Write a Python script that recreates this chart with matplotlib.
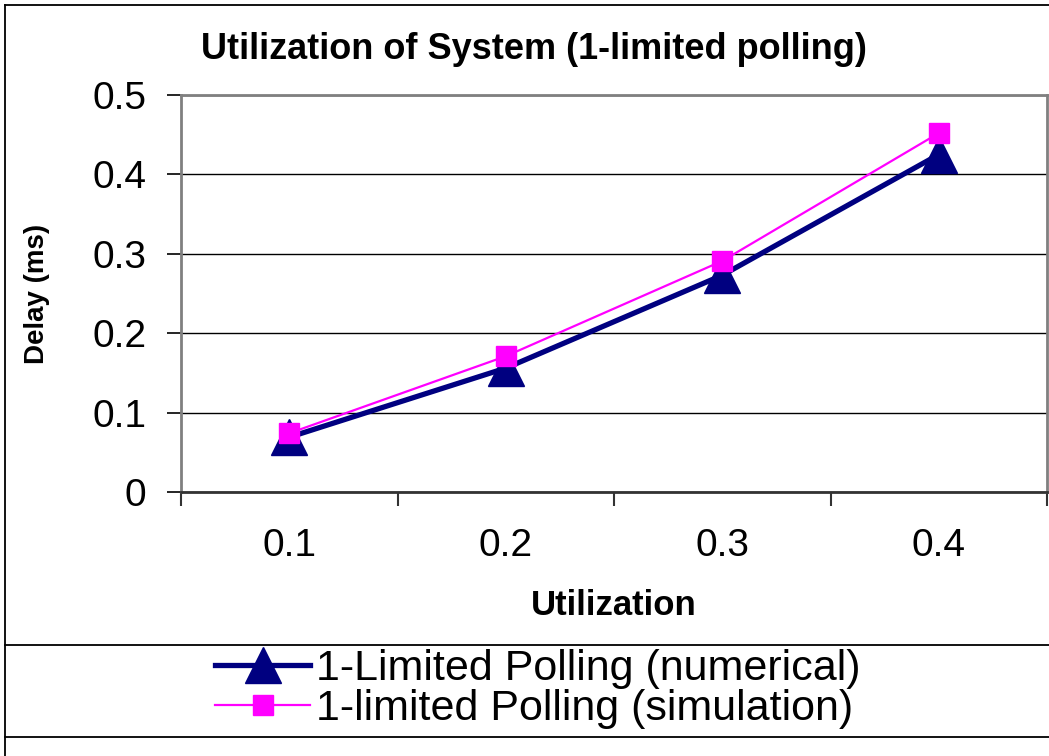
import matplotlib.pyplot as plt
from matplotlib.lines import Line2D

categories = ["0.1", "0.2", "0.3", "0.4"]
numerical = [0.069, 0.156, 0.273, 0.425]
simulation = [0.074, 0.171, 0.291, 0.452]
yticks = [0, 0.1, 0.2, 0.3, 0.4, 0.5]
ytick_labels = ["0", "0.1", "0.2", "0.3", "0.4", "0.5"]

plt.rcParams['font.family'] = ['Liberation Sans', 'DejaVu Sans']

fig = plt.figure(figsize=(10.49, 7.56), dpi=100)
ax = fig.add_axes([181/1049, 1 - 492/756, (1047-181)/1049, (492-95)/756])

xs = [i + 0.5 for i in range(len(categories))]
ax.plot(xs, numerical, color='#000080', lw=3.8, marker='^', ms=26,
        label='1-Limited Polling (numerical)', solid_joinstyle='miter')
ax.plot(xs, simulation, color='#FF00FF', lw=1.6, marker='s', ms=14,
        label='1-limited Polling (simulation)')

ax.set_xlim(0, 4)
ax.set_ylim(0, 0.5)
ax.set_yticks(yticks)
ax.set_yticklabels(ytick_labels)
ax.yaxis.grid(True, color='black', lw=1.0)
ax.set_axisbelow(True)

ax.set_xticks(range(5))
ax.set_xticklabels([])
ax.set_xticks(xs, minor=True)
ax.set_xticklabels(categories, minor=True)
ax.tick_params(axis='x', which='major', length=10, width=1.5, color='#333333', direction='out')
ax.tick_params(axis='x', which='minor', length=0, pad=26, labelsize=28)
ax.tick_params(axis='y', length=10, width=1.2, direction='out', pad=15, labelsize=28)

for s in ax.spines.values():
    s.set_color('#808080')
    s.set_linewidth(2)
ax.spines['bottom'].set_color('#333333')

ax.set_title('Utilization of System (1-limited polling)', fontsize=26,
             fontweight='bold', pad=26, x=0.408)
ax.set_ylabel('Delay (ms)', fontsize=20, fontweight='bold', labelpad=30)
ax.set_xlabel('Utilization', fontsize=25, fontweight='bold', labelpad=18)

# outer frame and legend box lines
fig.add_artist(Line2D([5/1049, 5/1049], [0, 1 - 5/756], color='black', lw=1.3))
fig.add_artist(Line2D([5/1049, 1], [1 - 5/756, 1 - 5/756], color='black', lw=1.3))
fig.add_artist(Line2D([5/1049, 1], [1 - 645/756, 1 - 645/756], color='black', lw=1.3))
fig.add_artist(Line2D([5/1049, 1], [1 - 737/756, 1 - 737/756], color='black', lw=1.3))

fig.legend(loc='center', bbox_to_anchor=(538/1049, 1 - 689/756), frameon=False,
           fontsize=31, handlelength=2.2, handletextpad=0.15, labelspacing=0.0,
           borderpad=0)

fig.savefig('out.png', dpi=100)
